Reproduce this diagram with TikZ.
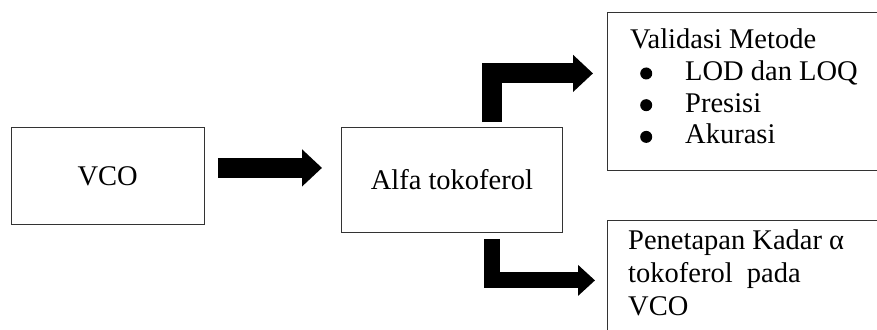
\documentclass[tikz,border=0pt]{standalone}
\usepackage{fontspec}
\setmainfont{Liberation Serif}
\usetikzlibrary{positioning,arrows.meta}
\tikzset{box/.style = {draw=black!80,line width=0.8pt,inner sep=0pt}}
\tikzset{fatarrow/.style = {line width=20pt,line join=miter,-{Triangle[length=20pt,width=36pt]}}}
\newcommand{\bigbul}{\hspace*{10pt}\makebox[45pt][l]{\tikz[baseline=-7pt]\fill (0,0) circle (6pt);}}

\begin{document}
\begin{tikzpicture}[x=1pt,y=-1pt,font=\fontsize{28.5}{32}\selectfont]
        \useasboundingbox (0,0) rectangle (877,329);
        \node [box,anchor=north west,minimum width=193.5pt,minimum height=97pt] (vco) at (10.5,127) {VCO};
        \node [box,anchor=north west,minimum width=221pt,minimum height=105pt] (alfa) at (341,127) {Alfa tokoferol};
        \node [box,anchor=north west,minimum width=290pt,minimum height=158pt] (valid) at (607,12) {};
        \node [box,anchor=north west,minimum width=290pt,minimum height=120pt] (kadar) at (607,220) {};
        % texts in the two result boxes
        \node [anchor=north west,inner sep=0pt,align=left,font=\fontsize{28.5}{31.7}\selectfont] (validtext) at (630,28.8)
            {Validasi Metode\\
             \bigbul LOD dan LOQ\\
             \bigbul Presisi\\
             \bigbul Akurasi};
        \node [anchor=north west,inner sep=0pt,align=left,font=\fontsize{28.5}{33}\selectfont] (kadartext) at (628,229.5)
            {Penetapan Kadar α\\tokoferol\ \ pada\\VCO};
        % block arrows
        \draw [fatarrow] ([xshift=13pt,yshift=8pt]vco.east) -- ([xshift=-19pt,yshift=12pt]alfa.west);
        \draw [fatarrow] ([xshift=40.5pt,yshift=5pt]alfa.north) |- ([xshift=-14pt,yshift=18pt]valid.west);
        \draw [fatarrow,line width=16pt,-{Triangle[length=17pt,width=30pt]}] ([xshift=40pt,yshift=-6pt]alfa.south) |- ([xshift=-12pt]kadar.west);
    \end{tikzpicture}
\end{document}
